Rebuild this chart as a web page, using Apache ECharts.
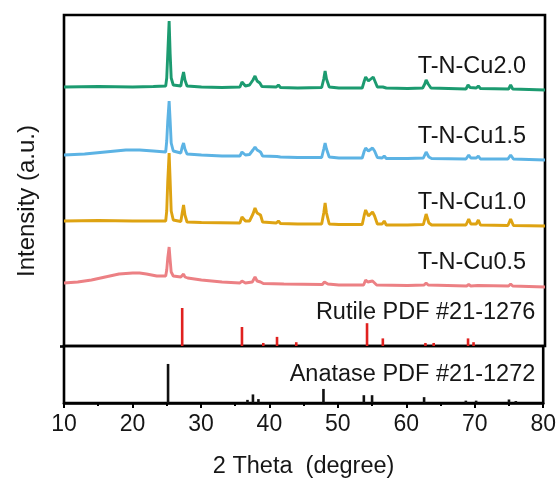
<!DOCTYPE html>
<html>
<head>
<meta charset="utf-8">
<script src="https://cdn.jsdelivr.net/npm/echarts@6/dist/echarts.min.js"></script>
<style>html,body{margin:0;padding:0;background:#fff;}#c{width:559px;height:480px;}</style>
</head>
<body>
<div id="c"></div>
<script>
// ---- data (2θ in degrees, intensity in a.u., spectra already vertically stacked) ----
const seriesNames = ['T-N-Cu2.0', 'T-N-Cu1.5', 'T-N-Cu1.0', 'T-N-Cu0.5'];
const seriesColors = ['#1c9b70', '#5cb3e4', '#dea312', '#ec8084'];

const cu20 = [[10,259],[15,259.5],[20,259],[23,259.5],[24.8,260],[24.95,268],[25.1,292],[25.3,325],[25.45,292],[25.6,268],[25.9,261],[27.0,260],[27.2,268],[27.4,274],[27.6,266],[27.9,260],[30,259],[33,258.5],[35.6,259],[35.9,264],[36.1,264],[36.4,260],[37.0,261],[37.5,266],[37.8,270],[38.1,265],[38.5,263],[38.8,259.5],[40.9,259],[41.2,261],[41.5,258.5],[44,258],[47.5,258.5],[47.8,267],[48.0,275],[48.2,267],[48.6,259],[50,258],[53.4,258],[53.7,265],[53.9,269],[54.3,265],[55.0,269],[55.3,264],[55.6,259],[56.4,259],[56.6,261],[56.9,258],[60,257.5],[62.2,258],[62.5,262],[62.7,266],[63.0,262],[63.4,258],[68.5,257],[68.8,261],[69.1,258.5],[70.0,258],[70.3,260],[70.6,257.5],[74.7,257],[75.0,261],[75.3,257],[80,256]];
const cu15 = [[10,191],[13,192],[16,194],[19,196],[21,196],[23,195],[24.8,194],[24.95,205],[25.1,225],[25.3,245],[25.45,225],[25.6,203],[25.9,195],[27.0,193],[27.2,199],[27.4,203],[27.6,197],[27.9,192],[30,191],[33,190],[35.6,190],[35.9,194],[36.1,194],[36.4,191],[37.0,191.5],[37.5,196],[37.8,199],[38.1,196],[38.6,194],[38.9,190],[41,189.5],[41.2,191],[41.5,189],[44,188.5],[47.5,188.5],[47.8,197],[48.0,203],[48.2,197],[48.6,189],[50,188],[53.4,188],[53.7,195],[53.9,198],[54.3,195],[54.9,198],[55.2,195],[55.6,188.5],[56.3,188],[56.6,190],[56.9,187.5],[60,187.5],[62.3,188],[62.7,194],[63.1,189],[63.5,187.5],[68.5,187],[68.9,191],[69.2,188],[70.0,188],[70.3,190],[70.6,187],[74.6,187],[75.0,191],[75.4,187],[80,186]];
const cu10 = [[10,125],[15,125.5],[20,125],[24.8,125],[24.95,135],[25.1,165],[25.3,193],[25.45,165],[25.6,135],[25.9,126],[27.0,124.5],[27.2,133],[27.4,141],[27.6,131],[27.9,124],[30,123.5],[35.6,123],[35.9,129],[36.1,130],[36.4,125],[37.0,125],[37.5,132],[37.8,138],[38.1,133],[38.6,131],[38.9,124],[40.9,123],[41.2,125],[41.5,122.5],[44,122],[47.5,122],[47.8,133],[48.0,143],[48.2,133],[48.6,122],[50,121.5],[53.4,121.5],[53.7,131],[53.9,136],[54.3,130],[54.9,134],[55.2,130],[55.6,122],[56.3,122],[56.6,125],[56.9,121],[60,121],[62.3,121.5],[62.7,132],[63.1,123],[63.5,121],[68.5,121],[68.9,127],[69.2,122],[70.0,122],[70.3,126],[70.6,121],[74.6,120.5],[75.0,127],[75.4,120.5],[80,120]];
const cu05 = [[10,63],[12,64],[14,66],[16,69],[18,72],[20,73],[21,73],[22,72],[23.5,70],[24.8,70],[24.95,76],[25.1,88],[25.3,99],[25.45,86],[25.6,74],[25.9,70],[27.0,69],[27.2,71],[27.4,72],[27.6,69],[28,68],[30,66],[33,64],[35.6,63],[35.9,65],[36.1,65],[36.4,63],[37.4,64],[37.8,69],[38.1,65],[38.6,64],[39,62.5],[42,62],[47.6,61.5],[47.9,64],[48.1,65],[48.4,62],[50,61],[53.6,61],[53.9,66],[54.2,64],[54.9,65],[55.2,63],[55.5,61],[60,60.5],[62.4,61],[62.7,63],[63.0,61],[68.6,60],[68.9,61.5],[69.2,60],[70.2,60.5],[74.7,60],[75.0,62],[75.3,60],[80,59]];

// reference patterns: [2θ, relative intensity %]
const rutileName = 'Rutile PDF #21-1276';
const rutile = [[27.2,100],[35.9,50],[39.0,8],[41.0,24],[43.8,10],[54.1,60],[56.4,20],[62.6,8],[63.8,8],[68.8,20],[69.6,10]];
const anataseName = 'Anatase PDF #21-1272';
const anatase = [[25.2,100],[36.8,8],[37.6,22],[38.4,10],[47.9,36],[53.8,20],[55.0,20],[62.6,15],[68.7,6],[70.2,6],[75.0,9],[76.0,5]];

const xTicks = [10, 20, 30, 40, 50, 60, 70, 80];
const xTitle = '2 Theta  (degree)';
const yTitle = 'Intensity (a.u.)';

// ---- chart ----
const FONT = "'Liberation Sans', Arial, Helvetica, sans-serif";
const TXT = '#161616';
const spectra = [cu20, cu15, cu10, cu05];
const labelY = [279, 209, 143, 83];

function textMark(text, coord) {
  return {
    symbol: 'circle', symbolSize: 0.1, silent: true,
    label: { show: true, position: 'left', distance: 0, formatter: text,
             fontSize: 23.5, fontFamily: FONT, color: TXT },
    data: [{ coord: coord }]
  };
}

const series = spectra.map((d, i) => ({
  type: 'line', name: seriesNames[i], xAxisIndex: 0, yAxisIndex: 0,
  data: d, showSymbol: false, symbol: 'none',
  lineStyle: { color: seriesColors[i], width: 2.9 },
  markPoint: textMark(seriesNames[i], [77.25, labelY[i]]),
  z: 3
}));

series.push({
  type: 'bar', xAxisIndex: 1, yAxisIndex: 1, data: rutile, barWidth: 2.6,
  itemStyle: { color: '#e0211f' },
  markPoint: textMark(rutileName, [78.6, 89])
});
series.push({
  type: 'bar', xAxisIndex: 2, yAxisIndex: 2, data: anatase, barWidth: 2.6,
  itemStyle: { color: '#111' },
  markPoint: textMark(anataseName, [78.85, 74])
});

const hiddenX = (gi) => ({ gridIndex: gi, type: 'value', min: xTicks[0], max: xTicks[xTicks.length-1], show: false });

const option = {
  animation: false,
  backgroundColor: '#fff',
  grid: [
    { left: 64, right: 14, top: 15, bottom: 134, show: true, borderColor: '#000', borderWidth: 2.6, backgroundColor: 'transparent' },
    { left: 64, right: 14, top: 300, bottom: 134 },
    { left: 64, right: 14, top: 346, bottom: 77, show: true, borderColor: '#000', borderWidth: 2.6, backgroundColor: 'transparent' }
  ],
  xAxis: [
    hiddenX(0),
    hiddenX(1),
    {
      gridIndex: 2, type: 'value', min: xTicks[0], max: xTicks[xTicks.length-1], interval: 10,
      axisLine: { show: true, onZero: false, lineStyle: { color: '#000', width: 2.6 } },
      axisTick: { show: true, length: 5, lineStyle: { color: '#000', width: 2 } },
      minorTick: { show: true, splitNumber: 2, length: 3, lineStyle: { color: '#000', width: 2 } },
      splitLine: { show: false },
      axisLabel: { fontSize: 23, fontFamily: FONT, color: TXT, margin: 10,
                   customValues: xTicks },
      name: xTitle, nameLocation: 'middle', nameGap: 52,
      nameTextStyle: { fontSize: 23.5, fontFamily: FONT, color: TXT }
    }
  ],
  yAxis: [
    { gridIndex: 0, type: 'value', min: 0, max: 331, show: false },
    { gridIndex: 1, type: 'value', min: 0, max: 121, show: false },
    {
      gridIndex: 2, type: 'value', min: 0, max: 146,
      axisLine: { show: false }, axisLabel: { show: false }, splitLine: { show: false },
      axisTick: { show: true, length: 4, customValues: [146], lineStyle: { color: '#000', width: 2.6 } }
    }
  ],
  graphic: [
    { type: 'text', x: 27, y: 201, rotation: Math.PI / 2,
      style: { text: yTitle, fontSize: 24, fontFamily: FONT, fill: TXT,
               textAlign: 'center', textVerticalAlign: 'middle' } }
  ],
  series: series
};

const chart = echarts.init(document.getElementById('c'), null, { renderer: 'canvas' });
chart.setOption(option);
</script>
</body>
</html>
